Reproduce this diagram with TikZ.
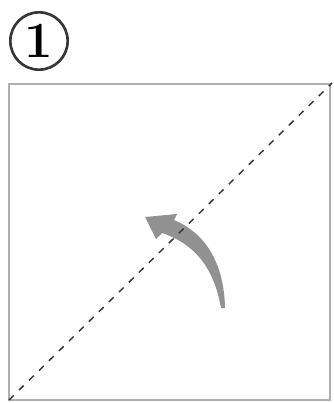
\documentclass[tikz,border=0pt]{standalone}
\usepackage{tikz}
\usetikzlibrary{positioning,calc}
\definecolor{edgegray}{RGB}{175,175,175}
\definecolor{foldgray}{RGB}{55,55,55}
\definecolor{arrowgray}{RGB}{145,145,145}
\begin{document}
\begin{tikzpicture}[x=0.75pt,y=-0.75pt]
  \tikzstyle{stepnum}=[circle,draw=foldgray,line width=2pt,minimum size=43pt,inner sep=0pt,font=\fontsize{38}{38}\bfseries\selectfont]
  \tikzstyle{paper}=[draw=edgegray,line width=1.3pt]
  \tikzstyle{fold}=[draw=foldgray,line width=1.1pt,dash pattern=on 5pt off 5.5pt]
  \useasboundingbox (0,0) rectangle (333,403);
  \node[stepnum] (num) at (39,41) {1};
  % paper square
  \coordinate (bl) at (9,400);
  \coordinate (tr) at (330,84);
  \draw[paper] (bl) rectangle (tr);
  % turning arrow
  \fill[arrowgray] (145,217) -- (177,214) -- (174,220)
    .. controls (203,232) and (224,260) .. (225,308)
    -- (221,308)
    .. controls (214,268) and (195,244) .. (162,233)
    -- (156,239) -- cycle;
  % fold line
  \draw[fold] (bl) -- ($(tr)+(2,-1)$);
\end{tikzpicture}
\end{document}
